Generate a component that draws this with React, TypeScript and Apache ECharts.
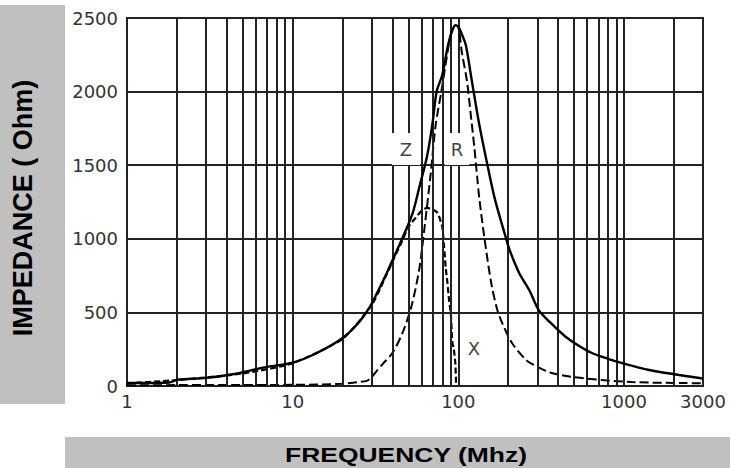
import React, { useEffect, useRef } from "react";
import * as echarts from "echarts";

// Frequency (MHz) and impedance (Ohm) values
const Z_FREQ = [1, 1.8, 2, 3, 4.35, 7, 10, 14, 20, 25, 29, 33, 37, 41, 46, 53, 58, 65, 70, 74, 80, 86, 91, 96, 100, 105, 111, 121, 134, 150, 165, 180, 194, 204, 233, 268, 306, 360, 446, 540, 640, 800, 976, 1420, 2150, 2850, 3000];
const Z_VAL = [20, 24, 42, 55, 80, 130, 158, 224, 326, 430, 530, 652, 768, 880, 1005, 1175, 1345, 1570, 1793, 2000, 2113, 2296, 2400, 2450, 2440, 2390, 2316, 2065, 1773, 1500, 1285, 1130, 1005, 924, 768, 652, 516, 430, 333, 270, 224, 185, 156, 109, 75, 54, 50];

const R_FREQ = [1, 2, 5, 10, 20, 25, 28, 30, 32, 35, 40, 46, 52, 58, 62, 68, 73, 79, 85, 90, 96, 100, 105, 113, 119, 125, 130, 134, 144, 158, 172, 184, 211, 256, 278, 366, 560, 1110, 2350, 3000];
const R_VAL = [5, 6, 7, 8, 15, 27, 35, 60, 100, 150, 224, 360, 537, 788, 1040, 1433, 1773, 2000, 2228, 2385, 2450, 2440, 2269, 2065, 1840, 1620, 1420, 1270, 1000, 700, 516, 428, 292, 177, 150, 88, 54, 27, 20, 18];

const X_FREQ = [1, 2, 5, 10, 20, 30, 37, 41, 46, 50, 55, 60, 65, 70, 75, 80, 82, 84, 86, 88, 90, 92, 94, 96, 97];
const X_VAL = [18, 40, 85, 155, 320, 550, 760, 870, 990, 1080, 1140, 1190, 1210, 1200, 1175, 1080, 950, 800, 700, 580, 500, 300, 250, 150, 0];

// Minor vertical grid lines of the log-scale frequency axis
const MINOR_GRID_FREQ = [2, 3, 4, 5, 6, 7, 8, 9, 20, 30, 40, 50, 60, 70, 80, 90, 200, 300, 400, 500, 600, 700, 800, 900, 2000];

const Y_MIN = 0;
const Y_MAX = 2500;
const Y_STEP = 500;
const X_MIN = 1;
const X_MAX = 3000;

const pairs = (xs: number[], ys: number[]) => xs.map((x, i) => [x, ys[i]]);

export default function App() {
  const ref = useRef<HTMLDivElement>(null);

  useEffect(() => {
    if (!ref.current) return;
    const chart = echarts.init(ref.current, undefined, { renderer: "svg" });
    const gridColor = "#222";
    chart.setOption({
      animation: false,
      backgroundColor: "#ffffff",
      grid: {
        left: 127,
        top: 18,
        right: 27,
        bottom: 82,
        show: true,
        borderColor: gridColor,
        borderWidth: 2,
        backgroundColor: "transparent",
      },
      xAxis: {
        type: "log",
        logBase: 10,
        min: X_MIN,
        max: X_MAX,
        axisLine: { show: false },
        axisTick: { show: false },
        splitLine: { show: true, lineStyle: { color: gridColor, width: 2 } },
        axisLabel: {
          show: true,
          margin: 6,
          color: "#333",
          fontFamily: "DejaVu Sans",
          fontSize: 18,
          showMinLabel: true,
          showMaxLabel: true,
          formatter: (v: number) => String(Math.round(v)),
        },
      },
      yAxis: {
        type: "value",
        min: Y_MIN,
        max: Y_MAX,
        interval: Y_STEP,
        axisLine: { show: false },
        axisTick: { show: false },
        splitLine: { show: true, lineStyle: { color: gridColor, width: 2 } },
        axisLabel: {
          margin: 9,
          color: "#333",
          fontFamily: "DejaVu Sans",
          fontSize: 18,
          formatter: (v: number) => String(Math.round(v)),
        },
      },
      series: [
        {
          name: "grid",
          type: "line",
          data: [],
          z: 1,
          silent: true,
          markLine: {
            silent: true,
            symbol: ["none", "none"],
            label: { show: false },
            emphasis: { disabled: true },
            lineStyle: { color: gridColor, width: 2, type: "solid" },
            data: MINOR_GRID_FREQ.map((f) => ({ xAxis: f })),
          },
        },
        {
          name: "Z",
          type: "line",
          data: pairs(Z_FREQ, Z_VAL),
          showSymbol: false,
          smooth: 0.3,
          z: 5,
          lineStyle: { color: "#000", width: 2.4, type: "solid" },
        },
        {
          name: "R",
          type: "line",
          data: pairs(R_FREQ, R_VAL),
          showSymbol: false,
          smooth: 0.3,
          z: 4,
          lineStyle: { color: "#000", width: 2, type: [9, 4] },
        },
        {
          name: "X",
          type: "line",
          data: pairs(X_FREQ, X_VAL),
          showSymbol: false,
          smooth: 0.2,
          z: 4,
          lineStyle: { color: "#000", width: 2.2, type: [6, 3] },
        },
      ],
      graphic: [
        {
          type: "rect",
          z: 0,
          shape: { x: 0, y: 5, width: 65, height: 399 },
          style: { fill: "#c0c0c0" },
          silent: true,
        },
        {
          type: "rect",
          z: 0,
          shape: { x: 65, y: 437, width: 665, height: 31 },
          style: { fill: "#c0c0c0" },
          silent: true,
        },
        {
          type: "text",
          z: 10,
          x: 23,
          y: 208,
          rotation: Math.PI / 2,
          style: {
            text: "IMPEDANCE ( Ohm)",
            fontFamily: "Liberation Sans, Arial, sans-serif",
            fontWeight: "bold",
            fontSize: 27,
            fill: "#000",
            textAlign: "center",
            textVerticalAlign: "middle",
          },
        },
        {
          type: "text",
          z: 10,
          x: 406,
          y: 455,
          scaleX: 1.26,
          style: {
            text: "FREQUENCY (Mhz)",
            fontFamily: "Liberation Sans, Arial, sans-serif",
            fontWeight: "bold",
            fontSize: 21,
            fill: "#000",
            textAlign: "center",
            textVerticalAlign: "middle",
          },
        },
        {
          type: "text",
          z: 10,
          x: 406,
          y: 149,
          style: {
            text: "Z",
            fontFamily: "DejaVu Sans",
            fontSize: 18,
            fill: "#444",
            textAlign: "center",
            textVerticalAlign: "middle",
            backgroundColor: "#fff",
            padding: [7, 8],
          },
        },
        {
          type: "text",
          z: 10,
          x: 457,
          y: 149,
          style: {
            text: "R",
            fontFamily: "DejaVu Sans",
            fontSize: 18,
            fill: "#444",
            textAlign: "center",
            textVerticalAlign: "middle",
            backgroundColor: "#fff",
            padding: [7, 6],
          },
        },
        {
          type: "text",
          z: 10,
          x: 474,
          y: 348,
          style: {
            text: "X",
            fontFamily: "DejaVu Sans",
            fontSize: 18,
            fill: "#444",
            textAlign: "center",
            textVerticalAlign: "middle",
          },
        },
      ],
    });
    return () => chart.dispose();
  }, []);

  return (
    <div
      ref={ref}
      style={{ position: "absolute", left: 0, top: 0, width: 730, height: 468 }}
    />
  );
}
